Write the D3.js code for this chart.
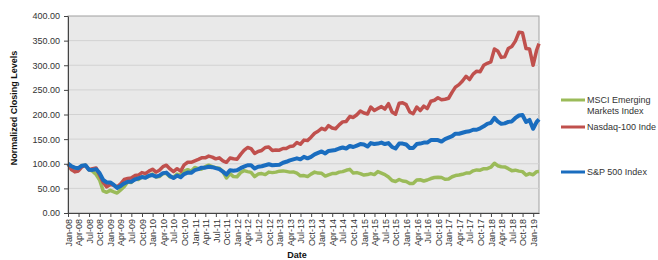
<!DOCTYPE html>
<html>
<head>
<meta charset="utf-8">
<script src="https://cdn.jsdelivr.net/npm/d3@7"></script>
<style>
  body { margin: 0; background: #fff; }
  svg { display: block; font-family: "Liberation Sans", Arial, sans-serif; }
  .axis text { fill: #333; font-size: 9px; }
  .axis path, .axis line { stroke: #444; }
</style>
</head>
<body>
<div id="chart"></div>
<script>
// month-end closes, normalized (Jan 2008 = 100)
const months = d3.timeMonth.range(new Date(2008, 0, 1), new Date(2019, 2, 1));
const sp500 = [95, 92, 91, 96, 97, 88, 87.5, 89, 81, 67, 62, 62,
  57, 51, 55, 60, 63.5, 63.5, 68, 70.5, 73, 71.5, 75.7, 77,
  74, 76, 81, 82, 75, 71, 76, 72.5, 79, 82, 81.5, 87,
  89, 92, 92, 94, 93, 91, 89, 84, 78, 87, 86, 87,
  91, 94, 97, 97, 90.5, 94, 95, 97, 99, 97, 97.5, 98,
  102, 104, 107, 109, 111, 109, 114, 111, 114, 119, 122, 125,
  121, 126, 127, 128, 131, 133, 131, 136, 134, 137, 140, 139,
  135, 142, 140, 141, 143, 140, 142, 134, 131, 141, 141, 139,
  132, 132, 140, 141, 143, 143, 148, 148, 148, 145, 150, 153,
  156, 161, 161, 163, 165, 166, 169, 169, 172, 176, 181, 183,
  193, 186, 181, 182, 185, 186, 193, 198, 199, 185, 189, 171,
  185, 190];
const nasdaq100 = [88, 83.5, 85.4, 93.5, 97, 88, 90, 91.5, 76.5, 62, 53, 58,
  56, 53, 59, 68, 70, 71, 76, 77, 82, 80, 85, 89,
  83, 87, 94, 97, 89.5, 84, 90, 85, 97.7, 103, 103, 106,
  109, 112, 112, 115.5, 113.5, 110, 112, 106, 103, 111.6, 110, 109,
  119, 127, 133, 130.6, 121, 125, 127, 133, 134, 127, 128, 127.6,
  131, 131, 135, 136, 143, 139.6, 148, 147, 154, 162, 166, 172,
  169, 177.5, 172.5, 171, 179, 185, 186, 196, 194, 199.5, 207, 203,
  201, 215, 208, 212, 216, 211, 222, 205, 200.5, 223, 224, 220,
  205, 201.5, 215, 208, 217, 212, 227, 229, 234, 230, 231, 233,
  245.5, 255.6, 260.7, 268, 277.6, 271, 282, 288, 287, 300, 304, 307,
  333, 329, 316, 317, 334, 338, 349, 367, 366, 334, 333, 300,
  331, 344];
const msciEM = [88, 92, 89, 96, 97, 88, 85, 78, 67, 45, 42, 46,
  43, 40.5, 47, 53.5, 63, 62, 69, 68, 73, 72, 75, 79,
  73, 74, 80, 80, 73, 72.5, 79, 77, 85, 88, 85, 92.5,
  90, 89, 94, 97, 94, 92, 91, 84, 71, 80, 74, 73.6,
  82, 86, 84, 82.5, 74, 79, 80, 78, 83, 82, 83, 85,
  85.5, 84.5, 83, 83.5, 81, 75.5, 76, 74, 79, 83, 81, 80.5,
  75, 77.5, 80, 80, 83, 84, 86.7, 88.6, 81, 82, 80, 77,
  78, 80, 78, 84, 81, 78, 73, 66, 64, 68, 65, 64,
  60, 60, 67, 67.5, 65, 67, 70, 72, 72.6, 72, 68.6, 69,
  73.6, 76, 77, 78.6, 81, 81, 85.6, 87.5, 87, 90, 90, 93,
  101, 96, 94, 93.5, 90, 86, 87, 85, 84, 77, 80, 77.6,
  84, 84.4];
// legend labels as they show in the picture (the Nasdaq one runs off the edge there)
const legendLabels = [["MSCI Emerging", "Markets Index"], ["Nasdaq-100 Inde"], ["S&P 500 Index"]];
const yTicks = [0, 50, 100, 150, 200, 250, 300, 350, 400];

const width = 658, height = 260;
const margin = {top: 16, right: 119, bottom: 47, left: 68};
const plotW = width - margin.left - margin.right;
const plotH = height - margin.top - margin.bottom;

// data points sit at month end, first point is the base date
const dates = [new Date(2008, 0, 1)].concat(months.slice(1).map(m => d3.timeDay.offset(m, -1)));
dates.push(new Date(2019, 1, 20));

const series = [
  {color: "#9bbb59", w: 3.5, values: [100].concat(msciEM)},
  {color: "#c0504d", w: 3.5, values: [100].concat(nasdaq100)},
  {color: "#1a6dbf", w: 4, values: [100].concat(sp500)}
];

const svg = d3.select("#chart").append("svg")
  .attr("width", width).attr("height", height);
const g = svg.append("g").attr("transform", `translate(${margin.left},${margin.top})`);

const x = d3.scaleTime()
  .domain([new Date(2008, 0, 1), new Date(2019, 1, 20)])
  .range([0, plotW]);
const y = d3.scaleLinear().domain([0, 400]).range([plotH, 0]);

// plot background
g.append("rect").attr("width", plotW).attr("height", plotH)
  .attr("fill", "#e9e9e9").attr("stroke", "#a0a0a0");

// gridlines
g.selectAll(".grid").data(yTicks.slice(1, -1)).enter().append("line")
  .attr("x1", 0).attr("x2", plotW)
  .attr("y1", d => y(d)).attr("y2", d => y(d))
  .attr("stroke", "#d2d2d2");

const line = d3.line().x((d, i) => x(dates[i])).y(d => y(d));
g.selectAll(".series").data(series).enter().append("path")
  .attr("fill", "none")
  .attr("stroke", d => d.color)
  .attr("stroke-width", d => d.w)
  .attr("stroke-linejoin", "round")
  .attr("d", d => line(d.values));

// y axis
g.append("g").attr("class", "axis")
  .call(d3.axisLeft(y).tickValues(yTicks).tickFormat(d3.format(".2f")).tickSize(4).tickSizeOuter(0))
  .selectAll("text").attr("dx", "-1");

// x axis, quarterly
const quarters = d3.timeMonth.every(3).range(new Date(2008, 0, 1), new Date(2019, 1, 1));
const xAxis = g.append("g").attr("class", "axis")
  .attr("transform", `translate(0,${plotH})`)
  .call(d3.axisBottom(x).tickValues(quarters).tickFormat(d3.timeFormat("%b-%y")).tickSize(4).tickSizeOuter(0));
xAxis.selectAll("text")
  .attr("transform", "rotate(-90)")
  .attr("x", -6).attr("y", 0).attr("dy", "0.35em")
  .style("text-anchor", "end");

// axis titles
svg.append("text")
  .attr("transform", `translate(17,108) rotate(-90)`)
  .attr("text-anchor", "middle")
  .style("font-size", "9px").style("font-weight", "bold").attr("fill", "#111")
  .text("Normalized Closing Levels");
svg.append("text")
  .attr("x", 297).attr("y", 258)
  .attr("text-anchor", "middle")
  .style("font-size", "9px").style("font-weight", "bold").attr("fill", "#111")
  .text("Date");

// legend
const legendY = [100, 127, 172];
const legend = svg.selectAll(".legend").data(series).enter().append("g")
  .attr("transform", (d, i) => `translate(561,${legendY[i]})`);
legend.append("line").attr("x1", 0).attr("x2", 24)
  .attr("stroke", d => d.color).attr("stroke-width", 3);
legend.append("text")
  .attr("x", 26).attr("dy", "0.35em")
  .style("font-size", "9px").attr("fill", "#333")
  .each(function (d, i) {
    const t = d3.select(this);
    legendLabels[i].forEach((s, k) => {
      t.append("tspan").attr("x", 26).attr("dy", k ? "1.2em" : null).text(s);
    });
  });
</script>
</body>
</html>
